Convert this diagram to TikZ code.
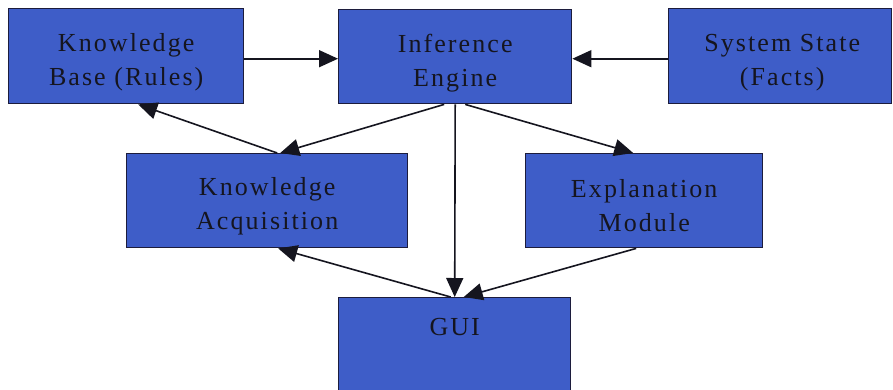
\documentclass[tikz,border=0pt]{standalone}
\usepackage{fontspec}
\setmainfont{Liberation Serif}
\newfontfamily\boxfont[LetterSpace=8]{Liberation Serif}
\usetikzlibrary{arrows.meta,calc}
\definecolor{boxblue}{HTML}{3E5DC8}
\definecolor{boxedge}{HTML}{1C1C3C}
\definecolor{ink}{HTML}{15151F}
\tikzset{
  module/.style={rectangle, draw=boxedge, line width=1.4pt, fill=boxblue,
    inner sep=0pt, anchor=north west},
  modtext/.style={text=ink, align=center, inner sep=0pt,
    font=\boxfont\fontsize{26}{34}\selectfont},
  link/.style={draw=ink, line width=1.6pt,
    -{Triangle[length=19pt,width=17pt]}},
}
\begin{document}
\begin{tikzpicture}[x=1pt,y=-1pt]
  \useasboundingbox (0,0) rectangle (893,389);
  \clip (0,0) rectangle (893,389);
  \fill[white] (0,0) rectangle (893,389);

  % modules
  \node[module, minimum width=235pt, minimum height=95pt] (kb)  at (8,8)    {};
  \node[module, minimum width=233pt, minimum height=94pt] (ie)  at (338,9)  {};
  \node[module, minimum width=223pt, minimum height=95pt] (ss)  at (668,8)  {};
  \node[module, minimum width=281pt, minimum height=94pt] (ka)  at (126,153) {};
  \node[module, minimum width=237pt, minimum height=94pt] (em)  at (525,153) {};
  \node[module, minimum width=232pt, minimum height=110pt] (gui) at (338,297) {};

  % labels
  \node[modtext] (kbt) at ($(kb.center)+(0,6)$) {Knowledge\\Base (Rules)};
  \node[modtext] (iet) at ($(ie.center)+(0,6)$) {Inference\\Engine};
  \node[modtext] (sst) at ($(ss.center)+(2,6)$) {System State\\(Facts)};
  \node[modtext] (kat) at ($(ka.center)+(0,6)$) {Knowledge\\Acquisition};
  \node[modtext] (emt) at ($(em.north)+(0,53)$) {Explanation\\Module};
  \node[modtext, anchor=base] (guit) at ($(gui.north)+(0,38)$) {GUI};

  % connectors
  \draw[link] ($(kb.east)+(0,2.5)$) -- ($(ie.west)+(0,2)$);
  \draw[link] ($(ss.west)+(0,2.5)$) -- ($(ie.east)+(0,2)$);
  \draw[link] ($(ka.north)+(10,0)$) -- ($(kb.south)+(12,0)$);
  \draw[link] ($(ie.south)+(-11,0)$) -- ($(ka.north)+(13,0)$);
  \draw[link] ($(ie.south)+(10,0)$) -- ($(em.north)+(-11,0)$);
  \draw[link] (ie.south) -- (gui.north);
  \draw[link] ($(gui.north)+(-4,0)$) -- ($(ka.south)+(11,0)$);
  \draw[link] ($(em.south)+(-8,0)$) -- ($(gui.north)+(9,0)$);
\end{tikzpicture}
\end{document}
